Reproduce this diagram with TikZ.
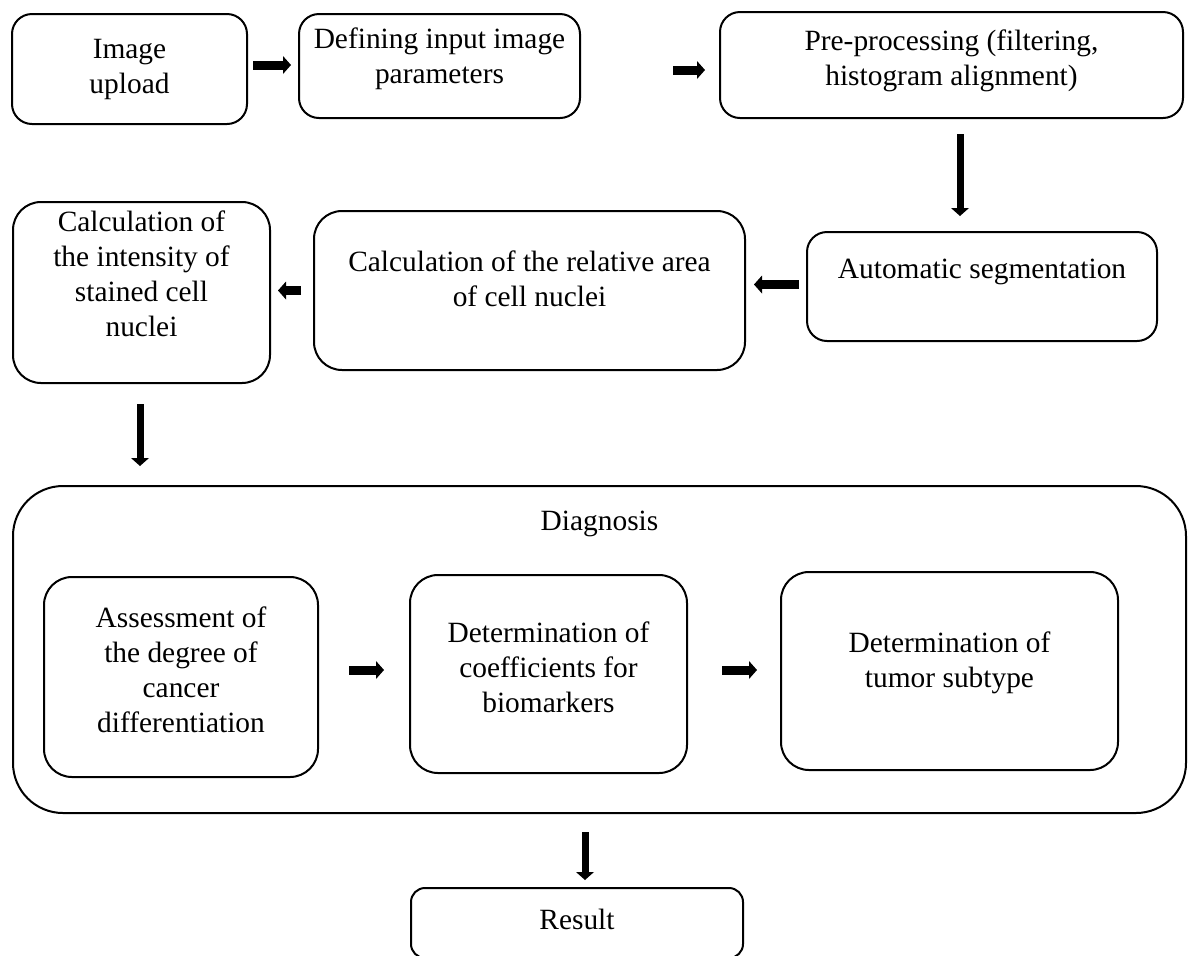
\documentclass[tikz,border=0pt]{standalone}
\usepackage{fontspec}
\setmainfont{Liberation Serif}
\usetikzlibrary{arrows.meta}

\tikzset{
  stage/.style={draw, line width=1pt, rounded corners=10pt, inner sep=0pt},
  stagetext/.style={anchor=center, align=center, inner sep=0pt,
    font=\fontsize{14.7pt}{17.5pt}\selectfont},
  flow/.style={line width=4.5pt, -{Triangle[length=4pt,width=9pt,line width=0pt]}},
}

\begin{document}
\begin{tikzpicture}[x=0.5pt,y=-0.5pt]
\useasboundingbox (0,0) rectangle (1195,955);
% first row
\node [stage, minimum width=117.5pt, minimum height=55pt,
  label={[stagetext,yshift=-28pt]90:Image\\upload}] (upload) at (129.5,69) {};
\node [stage, minimum width=140.5pt, minimum height=52pt,
  label={[stagetext,yshift=-23pt]90:Defining input image\\parameters}] (define) at (439.5,66) {};
\node [stage, minimum width=231.5pt, minimum height=53pt,
  label={[stagetext,yshift=-25pt]90:Pre-processing (filtering,\\histogram alignment)}] (prep) at (951.5,65) {};
% second row
\node [stage, minimum width=175pt, minimum height=54.5pt,
  label={[stagetext,yshift=-20.5pt]90:Automatic segmentation}] (segm) at (982,286.5) {};
\node [stage, rounded corners=14pt, minimum width=215.5pt, minimum height=79.5pt,
  label={[stagetext,yshift=-34.5pt]90:Calculation of the relative area\\of cell nuclei}] (area) at (529.5,290.5) {};
\node [stage, rounded corners=14pt, minimum width=128.5pt, minimum height=90.5pt,
  label={[stagetext,yshift=-36.5pt]90:Calculation of\\the intensity of\\stained cell\\nuclei}] (intens) at (141.5,292.5) {};
% diagnosis block
\node [stage, rounded corners=25pt, minimum width=586.5pt, minimum height=163.5pt,
  label={[stagetext,yshift=-19.5pt]90:Diagnosis}] (diag) at (599.5,649.5) {};
\node [stage, rounded corners=14pt, minimum width=137pt, minimum height=100pt,
  label={[stagetext,yshift=-46.75pt]90:Assessment of\\the degree of\\cancer\\differentiation}] (assess) at (181,677) {};
\node [stage, rounded corners=14pt, minimum width=138.5pt, minimum height=99pt,
  label={[stagetext,yshift=-46.5pt]90:Determination of\\coefficients for\\biomarkers}] (coeff) at (548.5,674) {};
\node [stage, rounded corners=14pt, minimum width=168.5pt, minimum height=99pt,
  label={[stagetext,yshift=-45.75pt]90:Determination of\\tumor subtype}] (tumor) at (949.5,671) {};
% result
\node [stage, rounded corners=7pt, minimum width=166pt, minimum height=35pt,
  label={[stagetext,yshift=-16pt]90:Result}] (result) at (577,923) {};

% arrows
\draw [flow, shorten <=2.5pt, shorten >=3.5pt] ([yshift=2pt]upload.east) -- ([yshift=2pt]upload.east -| define.west);
\draw [flow, shorten <=46pt, shorten >=7pt] ([yshift=-2pt]define.east) -- ([yshift=-2pt]define.east -| prep.west);
\draw [flow, line width=3.5pt, shorten <=7.5pt, shorten >=7.5pt] ([xshift=4.25pt]prep.south) -- ([xshift=4.25pt]prep.south |- segm.north);
\draw [flow, shorten <=3.5pt, shorten >=4pt] ([yshift=1pt]segm.west) -- ([yshift=1pt]segm.west -| area.east);
\draw [flow, shorten <=6pt, shorten >=3.5pt] (area.west) -- (area.west -| intens.east);
\draw [flow, line width=3.5pt, shorten <=10pt, shorten >=9.5pt] ([xshift=-0.75pt]intens.south) -- ([xshift=-0.75pt]intens.south |- diag.north);
\draw [flow, shorten <=15pt, shorten >=12.5pt] ([yshift=3.5pt]assess.east) -- ([yshift=3.5pt]assess.east -| coeff.west);
\draw [flow, shorten <=17pt, shorten >=11.5pt] ([yshift=2pt]coeff.east) -- ([yshift=2pt]coeff.east -| tumor.west);
\draw [flow, line width=3.5pt, shorten <=9pt, shorten >=3.5pt] ([xshift=-7.25pt]diag.south) -- ([xshift=-7.25pt]diag.south |- result.north);
\end{tikzpicture}
\end{document}
